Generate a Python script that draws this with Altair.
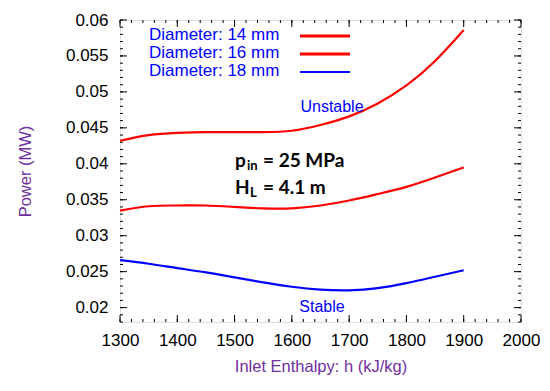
import altair as alt
import pandas as pd

# ---- data ----
enthalpy = [1300, 1350, 1400, 1450, 1500, 1550, 1600, 1650, 1700, 1750, 1800, 1850, 1900]
power_14 = [0.0432, 0.0440, 0.0443, 0.0444, 0.0444, 0.0444, 0.0446, 0.0454, 0.0466, 0.0484, 0.0509, 0.0543, 0.0586]
power_16 = [0.0335, 0.0341, 0.0342, 0.0342, 0.0340, 0.0338, 0.0338, 0.0342, 0.0349, 0.0358, 0.0368, 0.0381, 0.0395]
power_18 = [0.0266, 0.0261, 0.0255, 0.0249, 0.0242, 0.0235, 0.0229, 0.0225, 0.0224, 0.0227, 0.0234, 0.0243, 0.0252]
series_names = ["Diameter: 14 mm", "Diameter: 16 mm", "Diameter: 18 mm"]
series_colors = ["#ff0000", "#ff0000", "#0000ff"]

x_ticks = [1300, 1400, 1500, 1600, 1700, 1800, 1900, 2000]
y_ticks = [0.02, 0.025, 0.03, 0.035, 0.04, 0.045, 0.05, 0.055, 0.06]
x_minor = list(range(1300, 2001, 20))
y_minor = [round(0.018 + 0.001 * i, 3) for i in range(43)]

W, H = 401, 302
PURPLE = "#7030A0"
BLUE = "#0000ff"

rows = []
for name, vals in zip(series_names, [power_14, power_16, power_18]):
    for h, p in zip(enthalpy, vals):
        rows.append({"h": h, "P": p, "series": name})
df = pd.DataFrame(rows)

xscale = alt.Scale(domain=[1300, 2000], nice=False, zero=False)
yscale = alt.Scale(domain=[0.018, 0.06], nice=False, zero=False)

xaxis = alt.Axis(title="Inlet Enthalpy: h (kJ/kg)", values=x_ticks, format="d", ticks=False,
                 domain=False, grid=False, labelFontSize=17, labelFont="Liberation Sans",
                 labelColor="black", labelPadding=10, labelOverlap=False, labelFlush=False,
                 labelBound=False, titleFontSize=16.5,
                 titleFont="Liberation Sans", titleColor=PURPLE, titleFontWeight="normal",
                 titlePadding=10)
yaxis = alt.Axis(title="Power (MW)", values=y_ticks, ticks=False, domain=False, grid=False,
                 labelFontSize=17, labelFont="Liberation Sans", labelColor="black",
                 labelPadding=12, format="~g", labelOverlap=False, labelFlush=False,
                 labelBound=False, titleFontSize=16.5,
                 titleFont="Liberation Sans", titleColor=PURPLE, titleFontWeight="normal",
                 titleX=-87, titleY=H / 2)

lines = alt.Chart(df).mark_line(strokeWidth=2.2, interpolate="natural").encode(
    x=alt.X("h:Q", scale=xscale, axis=xaxis, title="Inlet Enthalpy: h (kJ/kg)"),
    y=alt.Y("P:Q", scale=yscale, axis=yaxis, title="Power (MW)"),
    color=alt.Color("series:N", scale=alt.Scale(domain=series_names, range=series_colors), legend=None),
    detail="series:N",
)

layers = [lines]

# inward ticks on all four sides
def xt(vals, length):
    d = pd.DataFrame({"v": vals})
    enc_x = alt.X("v:Q", scale=xscale, axis=xaxis, title="Inlet Enthalpy: h (kJ/kg)")
    bot = alt.Chart(d).mark_rule(color="black", strokeWidth=1).encode(
        x=enc_x, y=alt.value(H), y2=alt.value(H - length))
    top = alt.Chart(d).mark_rule(color="black", strokeWidth=1).encode(
        x=enc_x, y=alt.value(0), y2=alt.value(length))
    return [bot, top]

def yt(vals, length):
    d = pd.DataFrame({"v": vals})
    enc_y = alt.Y("v:Q", scale=yscale, axis=yaxis, title="Power (MW)")
    left = alt.Chart(d).mark_rule(color="black", strokeWidth=1).encode(
        y=enc_y, x=alt.value(0), x2=alt.value(length))
    right = alt.Chart(d).mark_rule(color="black", strokeWidth=1).encode(
        y=enc_y, x=alt.value(W), x2=alt.value(W - length))
    return [left, right]

layers += xt(x_minor, 3) + xt(x_ticks, 7) + yt(y_minor, 3) + yt(y_ticks, 7)

# legend (text on the left, line sample on the right)
leg_y = [15, 33, 51]
leg_w = [3, 3, 2]
for name, col, yy, sw in zip(series_names, series_colors, leg_y, leg_w):
    d = pd.DataFrame({"t": [name]})
    layers.append(alt.Chart(d).mark_text(align="left", baseline="middle", fontSize=17,
                                         font="Liberation Sans", color=BLUE).encode(
        text="t:N", x=alt.value(29), y=alt.value(yy)))
    layers.append(alt.Chart(d).mark_rule(color=col, strokeWidth=sw).encode(
        x=alt.value(180), x2=alt.value(230), y=alt.value(yy + 1)))

# annotations
def txt(s, x, y, size, color, weight="normal", font="Liberation Sans", align="center"):
    d = pd.DataFrame({"t": [s]})
    return alt.Chart(d).mark_text(align=align, baseline="middle", fontSize=size, font=font,
                                  color=color, fontWeight=weight).encode(
        text="t:N", x=alt.value(x), y=alt.value(y))

layers.append(txt("Unstable", 212, 87, 16, BLUE))
layers.append(txt("Stable", 202, 287, 16, BLUE))
layers.append(txt("p", 115, 141, 19, "black", "bold", "Lato", "left"))
layers.append(txt("in", 127, 146, 13, "black", "bold", "Lato", "left"))
layers.append(txt("= 25 MPa", 143, 141, 19, "black", "bold", "Lato", "left"))
layers.append(txt("H", 115, 168, 19, "black", "bold", "Lato", "left"))
layers.append(txt("L", 130, 173, 13, "black", "bold", "Lato", "left"))
layers.append(txt("= 4.1 m", 143, 168, 19, "black", "bold", "Lato", "left"))

chart = alt.layer(*layers).properties(
    width=W, height=H,
    autosize=alt.AutoSizeParams(type="none"),
    padding={"left": 112, "top": 12, "right": 21, "bottom": 57},
).configure_view(stroke="black", strokeWidth=1.6).configure(background="white")

chart.save("out.html", embed_options={"renderer": "svg", "actions": False})
